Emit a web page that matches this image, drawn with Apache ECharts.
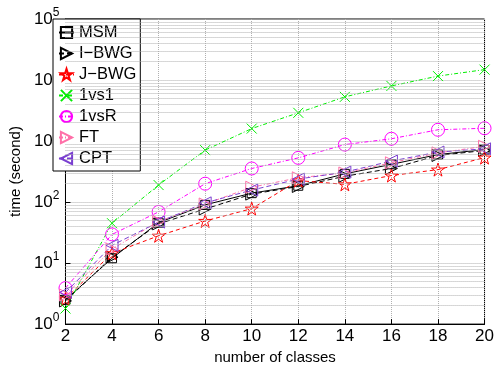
<!DOCTYPE html>
<html>
<head>
<meta charset="utf-8">
<script src="https://cdn.jsdelivr.net/npm/echarts@6/dist/echarts.min.js"></script>
<style>
  html, body { margin: 0; padding: 0; background: #fff; }
  #chart { width: 497px; height: 370px; }
</style>
</head>
<body>
<div id="chart"></div>
<script>
// x positions (number of classes)
const classes = [2, 4, 6, 8, 10, 12, 14, 16, 18, 20];

// time in seconds
const msm  = [2.5, 12, 46, 90, 140, 185, 290, 415, 600, 725];
const iBwg = [2.4, 12.5, 44, 77, 135, 180, 265, 355, 580, 700];
const jBwg = [2.6, 14.5, 28, 49, 78, 225, 195, 272, 340, 535];
const oneVsOne  = [1.8, 45, 190, 710, 1600, 2900, 5300, 8000, 11600, 14800];
const oneVsRest = [3.9, 29.5, 69, 200, 355, 530, 875, 1090, 1530, 1620];
const ft  = [3.0, 17, 48, 93, 175, 250, 300, 440, 640, 820];
const cpt = [3.3, 19.5, 47, 97, 157, 238, 310, 470, 660, 745];

// decades shown on the y axis
const yDecades = [0, 1, 2, 3, 4, 5];

const FONT = 'Liberation Sans';

// minor log grid lines at 2..9 x 10^k
const minorGrid = [];
yDecades.slice(0, -1).forEach(k => {
  for (let m = 2; m <= 9; m++) minorGrid.push({ yAxis: m * Math.pow(10, k) });
});

const rightTri = 'path://M0,0 L10,5 L0,10 Z';
const leftTri = 'path://M10,0 L0,5 L10,10 Z';
const star = 'path://M5,0 L6.18,3.62 L10,3.62 L6.9,5.86 L8.09,9.5 L5,7.25 L1.91,9.5 L3.1,5.86 L0,3.62 L3.82,3.62 Z';
const cross = 'path://M0,0 L10,10 M10,0 L0,10';

function mk(name, data, color, symbol, size, lineType) {
  return {
    name: name,
    type: 'line',
    data: classes.map((c, i) => [c, data[i]]),
    symbol: symbol,
    symbolSize: size,
    lineStyle: { color: color, width: 1, type: lineType },
    itemStyle: { color: 'rgba(0,0,0,0)', borderColor: color, borderWidth: 1 },
    emphasis: { disabled: true },
  };
}

const chart = echarts.init(document.getElementById('chart'));
chart.setOption({
  animation: false,
  textStyle: { fontFamily: FONT },
  grid: {
    left: 55, right: 10, top: 19, bottom: 37,
    show: true, borderColor: '#000', borderWidth: 1,
  },
  legend: {
    orient: 'vertical',
    left: 53, top: 19,
    backgroundColor: '#fff',
    borderColor: '#000', borderWidth: 1,
    padding: [5, 4, 4, 5],
    itemWidth: 15, itemHeight: 14, itemGap: 4,
    textStyle: { fontFamily: FONT, fontSize: 16.5, color: '#000' },
    data: ['MSM', 'I\u2212BWG', 'J\u2212BWG', '1vs1', '1vsR', 'FT', 'CPT'],
  },
  xAxis: {
    type: 'value',
    min: 2, max: 20, interval: 2,
    name: 'number of classes',
    nameLocation: 'middle', nameGap: 17,
    nameTextStyle: { fontFamily: FONT, fontSize: 15, color: '#000' },
    axisLine: { lineStyle: { color: '#000', width: 1 } },
    axisTick: { inside: true, length: 5, lineStyle: { color: '#000' } },
    axisLabel: { fontFamily: FONT, fontSize: 17, color: '#000', margin: 4 },
    splitLine: { show: true, lineStyle: { type: 'dotted', color: '#b0b0b0' } },
  },
  yAxis: {
    type: 'log', logBase: 10,
    min: 1, max: 100000,
    name: 'time (second)',
    nameLocation: 'middle', nameGap: 37,
    nameTextStyle: { fontFamily: FONT, fontSize: 15, color: '#000' },
    axisLine: { show: true, lineStyle: { color: '#000', width: 1 } },
    axisTick: { show: true, inside: true, length: 5, lineStyle: { color: '#000' } },
    axisLabel: {
      margin: 6,
      formatter: v => '{b|10}{s|' + Math.round(Math.log10(v)) + '}',
      rich: {
        b: { fontFamily: FONT, fontSize: 17, color: '#000' },
        s: { fontFamily: FONT, fontSize: 12, color: '#000', verticalAlign: 'bottom', padding: [0, 0, 12, 0] },
      },
    },
    splitLine: { show: true, lineStyle: { type: 'dotted', color: '#b0b0b0' } },
  },
  series: [
    {
      name: 'grid',
      type: 'line',
      data: [],
      silent: true,
      markLine: {
        silent: true, symbol: 'none', label: { show: false },
        lineStyle: { type: 'dotted', color: '#b0b0b0', width: 1 },
        data: minorGrid,
      },
    },
    mk('MSM', msm, '#000000', 'rect', 9, 'solid'),
    mk('I\u2212BWG', iBwg, '#000000', rightTri, 12, [5, 3]),
    mk('J\u2212BWG', jBwg, '#ff0000', star, 13, [4, 3]),
    mk('1vs1', oneVsOne, '#00ee00', cross, 10, [4, 2, 1, 2]),
    mk('1vsR', oneVsRest, '#ff00ff', 'circle', 13, [4, 2, 1, 2]),
    mk('FT', ft, '#ff6fa8', rightTri, 12, [4, 2, 1, 2]),
    mk('CPT', cpt, '#7a3fd0', leftTri, 12, [5, 3]),
  ],
});
</script>
</body>
</html>
